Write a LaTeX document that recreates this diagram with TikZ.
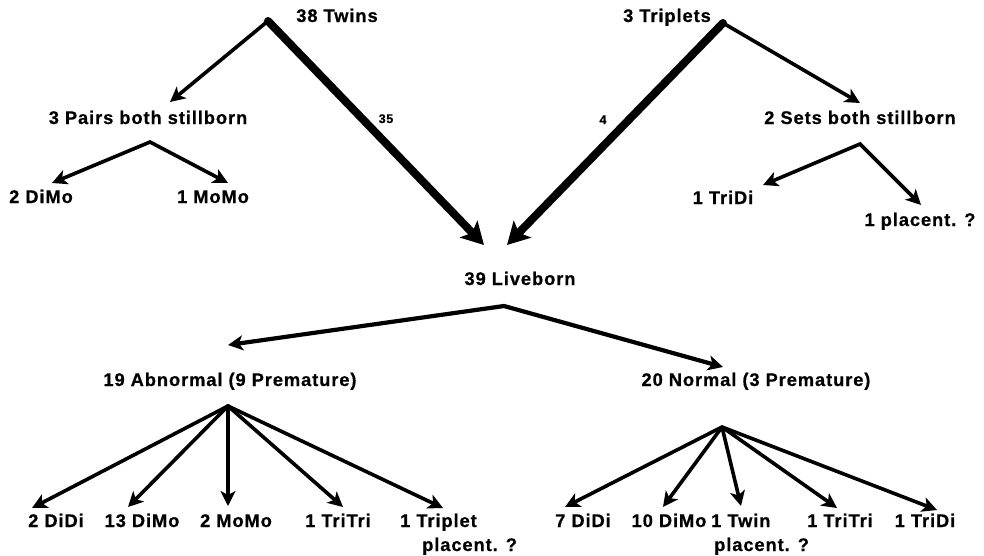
\documentclass[tikz,border=0pt]{standalone}
\usepackage{fontspec}
\usetikzlibrary{arrows.meta}
\newfontfamily\lblfont[LetterSpace=5,FakeBold=0.6]{Liberation Sans Bold}
\begin{document}
\begin{tikzpicture}[x=1pt,y=-1pt,
  lbl/.style={font={\lblfont\fontsize{18.3}{24}\selectfont}, inner sep=0pt, anchor=base},
  num/.style={font={\lblfont\fontsize{12.5}{14}\selectfont}, inner sep=0pt, anchor=base},
  thinarr/.style={line width=3.6pt, line cap=round, -{Stealth[length=15pt,width=15pt,inset=4pt]}},
  fork/.style={line width=3.6pt, line join=miter, {Stealth[length=15pt,width=15pt,inset=4pt]}-{Stealth[length=15pt,width=15pt,inset=4pt]}},
  thickarr/.style={line width=8pt, line cap=round, -{Stealth[length=22pt,width=24pt,inset=5pt]}},
]
\useasboundingbox (0,0) rectangle (984,555);
% labels
\node[lbl] (twins) at (337,22) {38 Twins};
\node[lbl] (triplets) at (667,22) {3 Triplets};
\node[lbl] (pairs) at (148,124) {3 Pairs both stillborn};
\node[lbl] (sets) at (860,124) {2 Sets both stillborn};
\node[lbl] (dimoA) at (41,203) {2 DiMo};
\node[lbl] (momoA) at (213,203) {1 MoMo};
\node[lbl] (tridiA) at (723,204) {1 TriDi};
\node[lbl] (plA) at (920,226) {1 placent. ?};
\node[lbl] (live) at (520,285) {39 Liveborn};
\node[lbl] (abn) at (230,386) {19 Abnormal (9 Premature)};
\node[lbl] (nor) at (756,386) {20 Normal (3 Premature)};
\node[lbl] (a1) at (56,527) {2 DiDi};
\node[lbl] (a2) at (142,527) {13 DiMo};
\node[lbl] (a3) at (236,527) {2 MoMo};
\node[lbl] (a4) at (338,527) {1 TriTri};
\node[lbl, anchor=base west] (a5) at (400,527) {\begin{tabular}[t]{@{}l@{}}1 Triplet\\\hspace*{22pt}placent. ?\end{tabular}};
\node[lbl] (n1) at (583,527) {7 DiDi};
\node[lbl] (n2) at (669,527) {10 DiMo};
\node[lbl, anchor=base west] (n3) at (711,527) {\begin{tabular}[t]{@{}l@{}}1 Twin\\\hspace*{3pt}placent. ?\end{tabular}};
\node[lbl] (n4) at (840,527) {1 TriTri};
\node[lbl] (n5) at (925,527) {1 TriDi};
\node[num] (l35) at (386,123) {35};
\node[num] (l4) at (603,124) {4};
% apex and tip points
\coordinate (apexTw) at (268,21);
\coordinate (tipPairs) at (170,102);
\coordinate (tipLiveL) at (484,245);
\coordinate (apexTr) at (723,23);
\coordinate (tipSets) at (860,103);
\coordinate (tipLiveR) at (507,245);
\coordinate (apexPairs) at (150,142);
\coordinate (tipDiMo) at (52,183);
\coordinate (tipMoMo) at (228,183);
\coordinate (apexSets) at (860,144);
\coordinate (tipTriDi) at (763,185);
\coordinate (tipPl) at (921,205);
\coordinate (apexLive) at (504,306);
\coordinate (tipAbn) at (228,345);
\coordinate (tipNor) at (723,367);
\coordinate (apexAbn) at (228,406);
\coordinate (ta1) at (32,508);
\coordinate (ta2) at (128,507);
\coordinate (ta3) at (228,506);
\coordinate (ta4) at (343,507);
\coordinate (ta5) at (443,508);
\coordinate (apexNor) at (722,427);
\coordinate (tn1) at (565,507);
\coordinate (tn2) at (663,507);
\coordinate (tn3) at (741,506);
\coordinate (tn4) at (837,508);
\coordinate (tn5) at (937,510);
% connectors
\draw[thickarr] (apexTw) -- (tipLiveL);
\draw[thinarr] (apexTw) -- (tipPairs);
\draw[thickarr] (apexTr) -- (tipLiveR);
\draw[thinarr] (apexTr) -- (tipSets);
\draw[fork] (tipDiMo) -- (apexPairs) -- (tipMoMo);
\draw[fork] (tipTriDi) -- (apexSets) -- (tipPl);
\draw[fork, line width=4.2pt] (tipAbn) -- (apexLive) -- (tipNor);
\foreach \t in {ta1,ta2,ta3,ta4,ta5} \draw[thinarr] (apexAbn) -- (\t);
\foreach \t in {tn1,tn2,tn3,tn4,tn5} \draw[thinarr] (apexNor) -- (\t);
\end{tikzpicture}
\end{document}
